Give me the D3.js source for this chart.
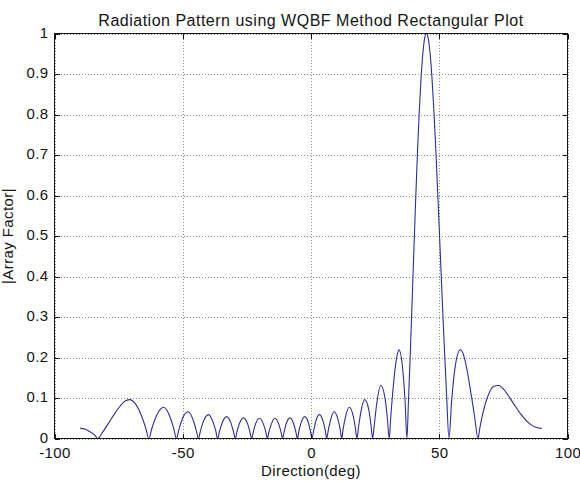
<!DOCTYPE html>
<html>
<head>
<meta charset="utf-8">
<script src="https://cdn.jsdelivr.net/npm/d3@7"></script>
<style>
  html, body { margin: 0; padding: 0; background: #ffffff; }
  svg { display: block; }
</style>
</head>
<body>
<svg id="chart" width="580" height="481"></svg>
<script>
// Array factor magnitude versus steering direction (degrees)
const directionDeg = [
  -90.0, -88.0, -86.0, -85.0, -84.0, -83.2,
  -81.1, -79.4, -75.4, -72.3, -70.5, -68.9, -66.6, -64.5, -63.2,
  -62.0, -60.2, -57.4, -54.9, -53.4, -52.5,
  -51.5, -50.2, -48.0, -45.9, -44.7, -43.9,
  -43.1, -41.9, -40.0, -38.2, -37.1, -36.4,
  -35.7, -34.6, -32.9, -31.2, -30.2, -29.5,
  -28.9, -27.9, -26.3, -24.7, -23.8, -23.1,
  -22.5, -21.6, -20.1, -18.5, -17.6, -17.0,
  -16.4, -15.5, -14.1, -12.6, -11.7, -11.1,
  -10.5, -9.7, -8.2, -6.8, -5.9, -5.3,
  -4.8, -3.9, -2.5, -1.0, -0.2, 0.4,
  1.0, 1.8, 3.3, 4.7, 5.6, 6.1,
  6.7, 7.6, 9.0, 10.5, 11.4, 12.0,
  12.5, 13.4, 14.9, 16.4, 17.3, 17.9,
  18.5, 19.4, 20.9, 22.5, 23.4, 24.0,
  24.7, 25.6, 27.2, 28.8, 29.8, 30.5,
  31.1, 32.1, 33.0, 33.9, 34.3, 35.6, 36.7, 37.4,
  38.0, 38.7, 39.4, 40.1, 40.8, 41.5, 42.2, 42.9, 43.6, 44.3, 45.0,
  45.7, 46.4, 47.1, 47.9, 48.7, 49.5, 50.3, 51.1, 51.9, 52.8, 53.8,
  54.8, 56.3, 58.2, 59.0, 60.4, 61.9, 63.8, 65.1,
  65.8, 66.5, 68.8, 71.3, 73.2, 75.3, 79.1, 81.7, 85.6, 88.0, 90.0
];

const arrayFactor = [
  0.025, 0.023, 0.016, 0.012, 0.006, 0.000,
  0.017, 0.033, 0.072, 0.093, 0.096, 0.089, 0.064, 0.027, 0.000,
  0.026, 0.057, 0.077, 0.052, 0.022, 0.000,
  0.022, 0.048, 0.066, 0.045, 0.019, 0.000,
  0.019, 0.043, 0.059, 0.041, 0.018, 0.000,
  0.017, 0.039, 0.054, 0.038, 0.016, 0.000,
  0.016, 0.037, 0.051, 0.036, 0.016, 0.000,
  0.016, 0.036, 0.050, 0.035, 0.016, 0.000,
  0.016, 0.035, 0.050, 0.036, 0.016, 0.000,
  0.016, 0.036, 0.051, 0.037, 0.016, 0.000,
  0.016, 0.038, 0.054, 0.039, 0.017, 0.000,
  0.018, 0.041, 0.059, 0.043, 0.019, 0.000,
  0.019, 0.045, 0.066, 0.048, 0.022, 0.000,
  0.022, 0.052, 0.077, 0.057, 0.026, 0.000,
  0.027, 0.064, 0.096, 0.072, 0.033, 0.000,
  0.035, 0.085, 0.131, 0.102, 0.048, 0.000,
  0.053, 0.130, 0.183, 0.214, 0.219, 0.181, 0.090, 0.000,
  0.093, 0.209, 0.335, 0.464, 0.589, 0.705, 0.806, 0.889, 0.950, 0.988, 1.000,
  0.988, 0.953, 0.897, 0.811, 0.708, 0.594, 0.473, 0.352, 0.237, 0.116, 0.000,
  0.090, 0.181, 0.219, 0.214, 0.183, 0.130, 0.053, 0.000,
  0.025, 0.048, 0.102, 0.129, 0.131, 0.120, 0.085, 0.061, 0.035, 0.027, 0.025
];

const xTickValues = [-100, -50, 0, 50, 100];
const yTickValues = [0, 0.1, 0.2, 0.3, 0.4, 0.5, 0.6, 0.7, 0.8, 0.9, 1];
const xTickLabels = ["-100", "-50", "0", "50", "100"];
const yTickLabels = ["0", "0.1", "0.2", "0.3", "0.4", "0.5", "0.6", "0.7", "0.8", "0.9", "1"];

const titleText = "Radiation Pattern using WQBF Method Rectangular Plot";
const xLabelText = "Direction(deg)";
const yLabelText = "|Array Factor|";

// ---- layout ----
const FONT = "Arial, 'Liberation Sans', Helvetica, sans-serif";
const TEXT_COLOR = "#141414";
const plot = { left: 54.5, right: 567.5, top: 33.5, bottom: 438.5 };
const plotW = plot.right - plot.left;
const plotH = plot.bottom - plot.top;

const svg = d3.select("#chart");
svg.append("rect").attr("width", 580).attr("height", 481).attr("fill", "#ffffff");

const x = d3.scaleLinear().domain([-100, 100]).range([plot.left, plot.right]);
const y = d3.scaleLinear().domain([0, 1]).range([plot.bottom, plot.top]);

// dotted grid
const gridColor = "#8a8a8a";
const gx = svg.append("g")
  .attr("transform", `translate(0,${plot.bottom})`)
  .call(d3.axisBottom(x).tickValues(xTickValues).tickSize(-plotH).tickFormat(""));
const gy = svg.append("g")
  .attr("transform", `translate(${plot.left},0)`)
  .call(d3.axisLeft(y).tickValues(yTickValues).tickSize(-plotW).tickFormat(""));
[gx, gy].forEach(g => {
  g.select(".domain").remove();
  g.selectAll(".tick line")
    .attr("stroke", gridColor)
    .attr("stroke-width", 1)
    .attr("stroke-dasharray", "1,2")
    .attr("shape-rendering", "crispEdges");
});

// data line
const line = d3.line()
  .x((d, i) => x(directionDeg[i]))
  .y(d => y(d))
  .curve(d3.curveMonotoneX);

svg.append("path")
  .datum(arrayFactor)
  .attr("fill", "none")
  .attr("stroke", "#2e2e98")
  .attr("stroke-width", 1.1)
  .attr("stroke-linejoin", "round")
  .attr("d", line);

// axes with inward ticks on all four sides
const tickLen = 5;
const axB = svg.append("g")
  .attr("transform", `translate(0,${plot.bottom})`)
  .call(d3.axisBottom(x).tickValues(xTickValues).tickSize(-tickLen).tickPadding(9)
    .tickFormat((d, i) => xTickLabels[i]));
const axT = svg.append("g")
  .attr("transform", `translate(0,${plot.top})`)
  .call(d3.axisTop(x).tickValues(xTickValues).tickSize(-tickLen).tickFormat(""));
const axL = svg.append("g")
  .attr("transform", `translate(${plot.left},0)`)
  .call(d3.axisLeft(y).tickValues(yTickValues).tickSize(-tickLen).tickPadding(6)
    .tickFormat((d, i) => yTickLabels[i]));
const axR = svg.append("g")
  .attr("transform", `translate(${plot.right},0)`)
  .call(d3.axisRight(y).tickValues(yTickValues).tickSize(-tickLen).tickFormat(""));

[axB, axT, axL, axR].forEach(g => {
  g.select(".domain").remove();
  g.selectAll(".tick line").attr("stroke", TEXT_COLOR).attr("shape-rendering", "crispEdges");
  g.selectAll(".tick text")
    .attr("fill", TEXT_COLOR)
    .style("font-family", FONT)
    .style("font-size", "15px")
    .style("letter-spacing", "0.4px");
});
// y tick labels sit a touch above their ticks
axL.selectAll(".tick text").attr("dy", "0.26em");

// box
svg.append("rect")
  .attr("x", plot.left).attr("y", plot.top)
  .attr("width", plotW).attr("height", plotH)
  .attr("fill", "none").attr("stroke", TEXT_COLOR).attr("stroke-width", 1)
  .attr("shape-rendering", "crispEdges");

// title and axis labels
svg.append("text")
  .attr("x", (plot.left + plot.right) / 2).attr("y", 26)
  .attr("text-anchor", "middle")
  .attr("fill", TEXT_COLOR)
  .style("font-family", FONT).style("font-size", "16px")
  .style("letter-spacing", "0.5px")
  .text(titleText);

svg.append("text")
  .attr("x", (plot.left + plot.right) / 2).attr("y", 475.5)
  .attr("text-anchor", "middle")
  .attr("fill", TEXT_COLOR)
  .style("font-family", FONT).style("font-size", "15px")
  .style("letter-spacing", "0.4px")
  .text(xLabelText);

svg.append("text")
  .attr("transform", `translate(13,${(plot.top + plot.bottom) / 2}) rotate(-90)`)
  .attr("text-anchor", "middle")
  .attr("fill", TEXT_COLOR)
  .style("font-family", FONT).style("font-size", "15px")
  .style("letter-spacing", "0.4px")
  .text(yLabelText);
</script>
</body>
</html>
